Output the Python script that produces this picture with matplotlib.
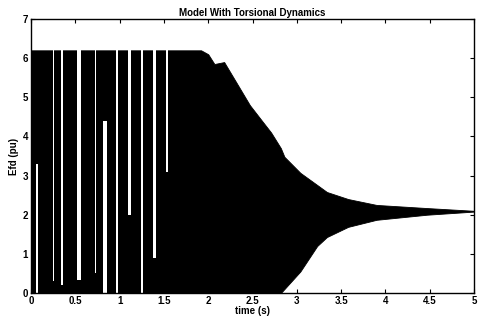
import matplotlib
matplotlib.use("Agg")
import matplotlib.pyplot as plt

# Envelope of the (very dense) field-voltage oscillation
env_t     = [0.0, 1.92, 2.00, 2.07, 2.18, 2.32, 2.47, 2.60, 2.71, 2.82, 2.86, 3.04, 3.23, 3.34, 3.58, 3.90, 4.47, 5.0]
env_upper = [6.2, 6.2, 6.1, 5.85, 5.9, 5.37, 4.8, 4.42, 4.1, 3.7, 3.48, 3.07, 2.76, 2.58, 2.40, 2.25, 2.17, 2.1]
env_lower = [0.0, 0.0, 0.0, 0.0, 0.0, 0.0, 0.0, 0.0, 0.0, 0.0, 0.1, 0.55, 1.2, 1.43, 1.69, 1.87, 2.0, 2.08]

# Intervals where the limited signal rests at a limit (white gaps in the black mass)
gap_t0 = [0.062, 0.243, 0.343, 0.515, 0.718, 0.81, 0.963, 1.095, 1.243, 1.375, 1.52]
gap_t1 = [0.075, 0.256, 0.357, 0.56, 0.731, 0.855, 0.985, 1.125, 1.26, 1.41, 1.545]
gap_lo = [0.0, 0.3, 0.2, 0.33, 0.5, 0.0, 0.0, 2.0, 0.0, 0.9, 3.1]
gap_hi = [3.3, 6.2, 6.2, 6.2, 6.2, 4.4, 6.2, 6.2, 6.2, 6.2, 6.2]

x_ticks = [0, 0.5, 1, 1.5, 2, 2.5, 3, 3.5, 4, 4.5, 5]
x_tick_labels = ["0", "0.5", "1", "1.5", "2", "2.5", "3", "3.5", "4", "4.5", "5"]
y_ticks = [0, 1, 2, 3, 4, 5, 6, 7]

plt.rcParams['font.family'] = ['Liberation Sans', 'DejaVu Sans']

fig = plt.figure(figsize=(4.79, 3.22), dpi=100)
ax = fig.add_axes([31/479, 29/322, 443/479, 274/322])

ax.fill_between(env_t, env_lower, env_upper, color='black', linewidth=0.6, edgecolor='black')
widths = [b - a for a, b in zip(gap_t0, gap_t1)]
heights = [h - l for l, h in zip(gap_lo, gap_hi)]
ax.bar(gap_t0, heights, width=widths, bottom=gap_lo, align='edge', color='white', linewidth=0)

ax.set_xlim(0, 5)
ax.set_ylim(0, 7)
ax.set_xticks(x_ticks)
ax.set_xticklabels(x_tick_labels)
ax.set_yticks(y_ticks)
ax.tick_params(direction='in', top=True, right=True, length=3, width=0.8,
               labelsize=7, pad=2)
for lab in ax.get_xticklabels() + ax.get_yticklabels():
    lab.set_fontweight('bold')
for s in ax.spines.values():
    s.set_linewidth(1.0)

ax.set_title("Model With Torsional Dynamics", fontsize=7, fontweight='bold', pad=2)
ax.set_xlabel("time (s)", fontsize=7, fontweight='bold', labelpad=0)
ax.set_ylabel("Efd (pu)", fontsize=7, fontweight='bold', labelpad=3)

fig.savefig("out.png", dpi=100)
